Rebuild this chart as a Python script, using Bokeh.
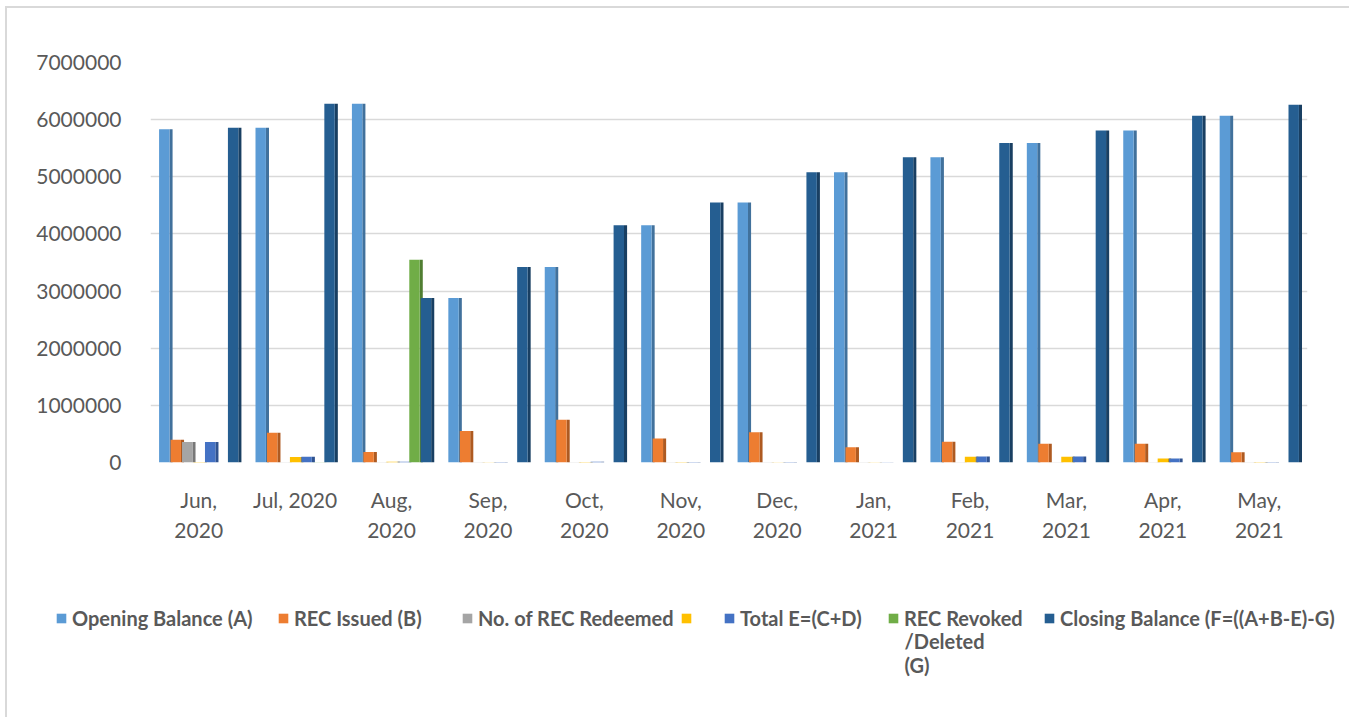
from bokeh.plotting import figure
from bokeh.models import (ColumnDataSource, Range1d, FixedTicker, SingleIntervalTicker,
                          BasicTickFormatter, Legend, LegendItem, Label)
from bokeh.layouts import column
from bokeh.transform import dodge
from bokeh.embed import file_html
from bokeh.resources import INLINE

months = ["Jun,\n2020", "Jul, 2020", "Aug,\n2020", "Sep,\n2020", "Oct,\n2020", "Nov,\n2020",
          "Dec,\n2020", "Jan,\n2021", "Feb,\n2021", "Mar,\n2021", "Apr,\n2021", "May,\n2021"]
opening_balance = [5830000, 5860000, 6280000, 2880000, 3420000, 4150000,
                   4550000, 5080000, 5340000, 5590000, 5810000, 6070000]
rec_issued = [400000, 520000, 185000, 550000, 750000, 420000,
              530000, 265000, 365000, 330000, 330000, 180000]
rec_redeemed = [360000, 5000, 6000, 4000, 5000, 4000, 4000, 3000, 5000, 5000, 4000, 4000]
rec_d = [8000, 95000, 12000, 6000, 10000, 8000, 6000, 5000, 100000, 100000, 70000, 8000]
total_e = [360000, 100000, 15000, 8000, 12000, 10000, 8000, 6000, 105000, 105000, 72000, 10000]
rec_revoked = [2000, 3000, 3550000, 2000, 2000, 2000, 2000, 2000, 2000, 2000, 2000, 2000]
closing_balance = [5860000, 6280000, 2880000, 3420000, 4150000, 4550000,
                   5080000, 5340000, 5590000, 5810000, 6070000, 6260000]

series_names = ["Opening Balance (A)", "REC Issued (B)", "No. of REC Redeemed", "",
                "Total E=(C+D)", "REC Revoked", "Closing Balance (F=((A+B-E)-G)"]
revoked_rest = "/Deleted\n(G)"
keys = ["a", "b", "c", "d", "e", "g", "f"]
colors = ["#5B9BD5", "#ED7D31", "#A5A5A5", "#FFC000", "#4472C4", "#70AD47", "#255E91"]
side_colors = ["#41719C", "#AE5A21", "#787878", "#BC8C00", "#2F528F", "#507E32", "#193F62"]

src = ColumnDataSource(dict(x=list(range(1, 13)), a=opening_balance, b=rec_issued,
                            c=rec_redeemed, d=rec_d, e=total_e, g=rec_revoked,
                            f=closing_balance))

OX, OY = 7, 8          # page offset of the chart box (after its thin border)
W = 1349 - OX
TOP_H = 590 - OY
FRAME_LEFT, FRAME_TOP, FRAME_BOTTOM = 150 - OX, 62 - OY, 462 - OY
p = figure(width=W, height=TOP_H, output_backend="svg", toolbar_location=None,
           x_range=Range1d(0.5, 12.5), y_range=Range1d(0, 7000000),
           min_border_left=FRAME_LEFT, min_border_right=1349 - 1307,
           min_border_top=FRAME_TOP, min_border_bottom=TOP_H - FRAME_BOTTOM)
p.outline_line_color = None
p.background_fill_color = "white"
p.border_fill_color = "white"

p.xgrid.grid_line_color = None
p.ygrid.grid_line_color = "#D9D9D9"
p.ygrid.grid_line_width = 1.5
p.yaxis.ticker = SingleIntervalTicker(interval=1000000)
p.yaxis.formatter = BasicTickFormatter(use_scientific=False)
p.ygrid.ticker = SingleIntervalTicker(interval=1000000)

p.xaxis.ticker = FixedTicker(ticks=list(range(1, 13)))
p.xaxis.major_label_overrides = {i + 1: m for i, m in enumerate(months)}

for ax in (p.xaxis, p.yaxis):
    ax.axis_line_color = None
    ax.major_tick_line_color = None
    ax.minor_tick_line_color = None
    ax.major_label_text_font = "Lato"
    ax.major_label_text_font_size = "21px"
    ax.major_label_text_color = "#595959"
p.xaxis.major_label_standoff = 18
p.yaxis.major_label_standoff = 23

step = 0.119
fw = 0.108
sw = 0.032
for i, k in enumerate(keys):
    off = (i - 3) * step
    p.vbar(x=dodge("x", off + fw / 2 + sw / 2, range=p.x_range), top=k, width=sw,
           bottom=0, source=src, fill_color=side_colors[i], line_color=None)
    p.vbar(x=dodge("x", off, range=p.x_range), top=k, width=fw, bottom=0,
           source=src, fill_color=colors[i], line_color=None)

# legend strip below the chart (its frame spans the full width)
LEG_H = 717 - 590
p2 = figure(width=W, height=LEG_H, output_backend="svg", toolbar_location=None,
            x_range=Range1d(-1, 0), y_range=Range1d(-1, 0),
            x_axis_type=None, y_axis_type=None,
            min_border_left=0, min_border_right=0, min_border_top=0, min_border_bottom=0)
if "frame_align" in p2.properties():
    p2.frame_align = False
p2.outline_line_color = None
p2.xgrid.grid_line_color = None
p2.ygrid.grid_line_color = None
p2.border_fill_color = "white"

leg_x = [55, 277, 461, 680, 723, 887, 1043]
CENTER_Y = 617.5 - 590
for i, name in enumerate(series_names):
    # legend swatch renderer: same data, lying outside this strip's visible ranges
    sw_r = p2.vbar(x="x", top=keys[i], width=0.1, source=src,
                   fill_color=colors[i], line_color=None)
    lg = Legend(items=[LegendItem(label=name, renderers=[sw_r])],
                location=(leg_x[i] - OX, LEG_H - (CENTER_Y + 12)),
                orientation="horizontal", padding=0, margin=0, spacing=0,
                glyph_width=12, glyph_height=12, label_standoff=5, label_height=24,
                label_text_font="Lato", label_text_font_style="bold",
                label_text_font_size="20px", label_text_color="#595959",
                border_line_alpha=0, background_fill_alpha=0)
    p2.add_layout(lg, "center")

p2.add_layout(Label(x=887 + 12 + 5 - OX, y=LEG_H - (628 - 590), x_units="screen",
                    y_units="screen", text=revoked_rest, text_baseline="top",
                    text_font="Lato", text_font_style="bold", text_font_size="20px",
                    text_color="#595959", text_line_height=1.04))

layout = column(p, p2, spacing=0,
                styles={"position": "absolute", "left": "5px", "top": "6px",
                        "border-left": "2px solid #D9D9D9",
                        "border-top": "2px solid #D9D9D9"})
open("out.html", "w").write(file_html(layout, INLINE))
